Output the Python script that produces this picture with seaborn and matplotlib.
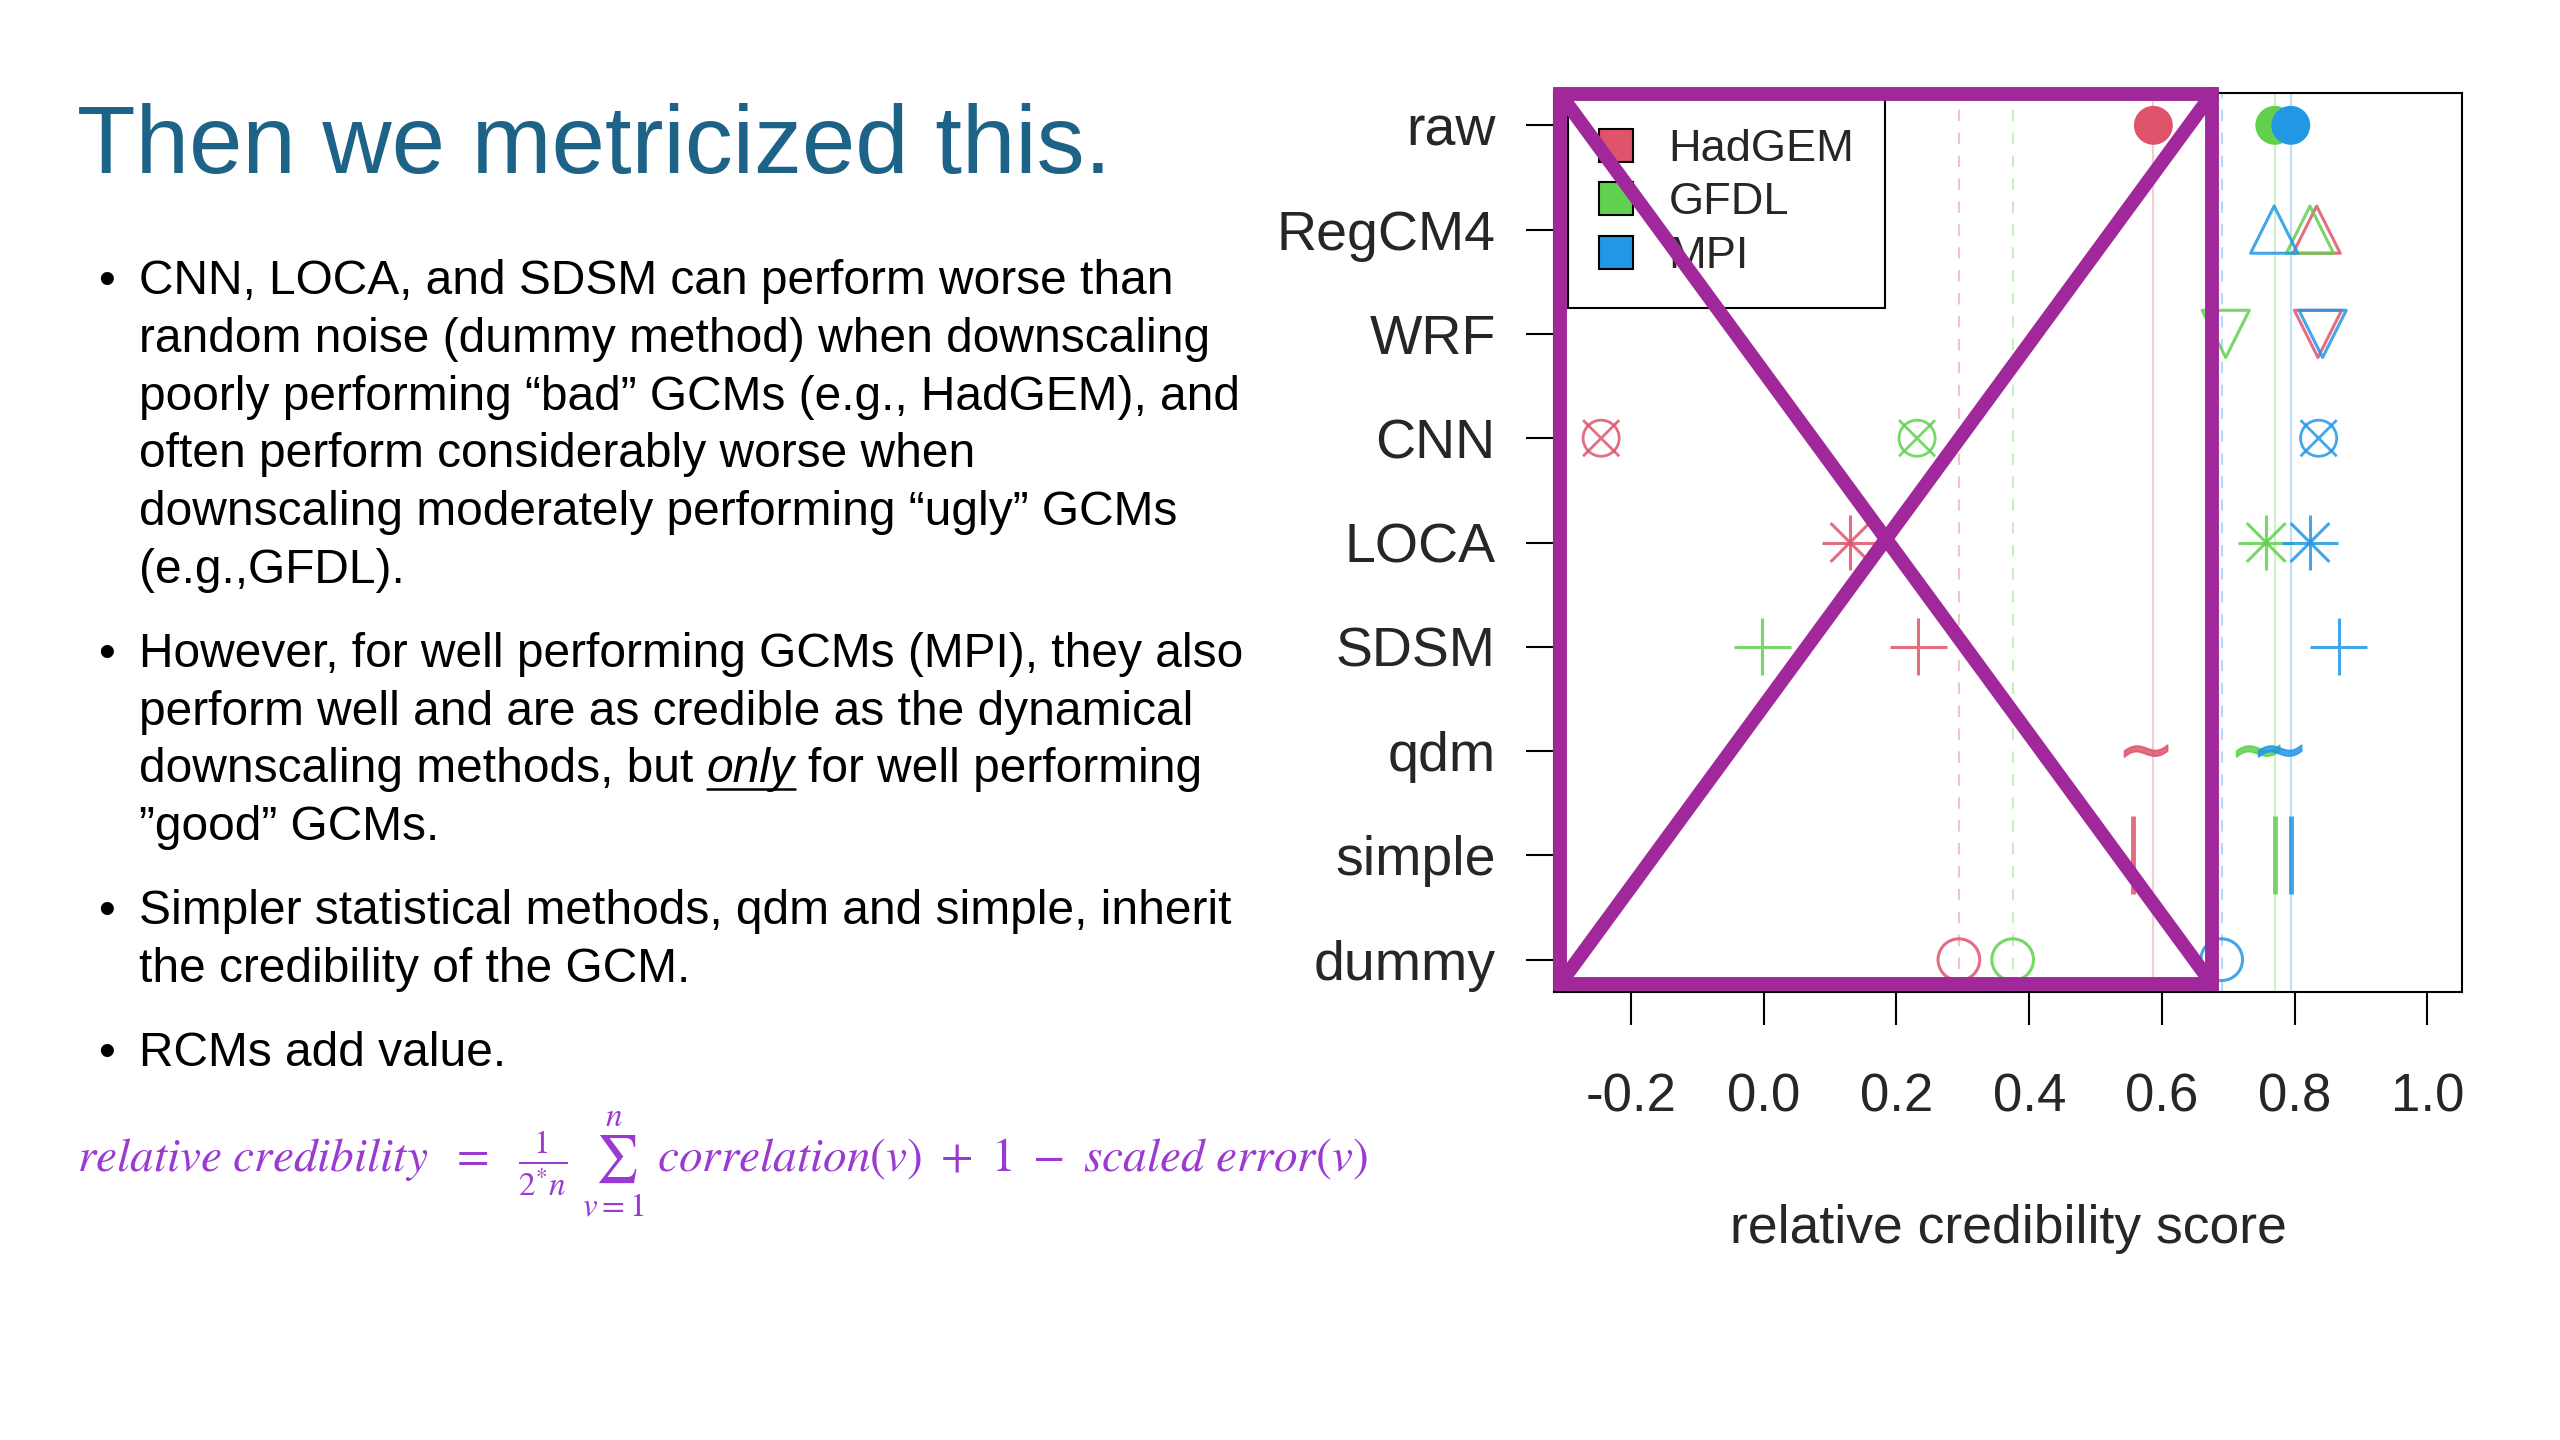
import numpy as np
import pandas as pd
import matplotlib
matplotlib.use('Agg')
import matplotlib.pyplot as plt
from matplotlib.patches import Patch, Rectangle
from matplotlib.lines import Line2D
import seaborn as sns

# scores (top row to bottom row)
methods = ['raw', 'RegCM4', 'WRF', 'CNN', 'LOCA', 'SDSM', 'qdm', 'simple', 'dummy']
gcms = ['HadGEM', 'GFDL', 'MPI']
hadgem = [0.587, 0.833, 0.835, -0.245, 0.130, 0.233, 0.576, 0.556, 0.294]
gfdl = [0.770, 0.823, 0.696, 0.231, 0.757, -0.002, 0.745, 0.770, 0.375]
mpi = [0.794, 0.769, 0.842, 0.836, 0.823, 0.866, 0.778, 0.795, 0.690]
x_ticks = [-0.2, 0.0, 0.2, 0.4, 0.6, 0.8, 1.0]
x_label = 'relative credibility score'

title = 'Then we metricized this.'
bullets = [
    ['CNN, LOCA, and SDSM can perform worse than',
     'random noise (dummy method) when downscaling',
     'poorly performing \u201cbad\u201d GCMs (e.g., HadGEM), and',
     'often perform considerably worse when',
     'downscaling moderately performing \u201cugly\u201d GCMs',
     '(e.g.,GFDL).'],
    ['However, for well performing GCMs (MPI), they also',
     'perform well and are as credible as the dynamical',
     'downscaling methods, but *only* for well performing',
     '\u201dgood\u201d GCMs.'],
    ['Simpler statistical methods, qdm and simple, inherit',
     'the credibility of the GCM.'],
    ['RCMs add value.'],
]
formula = (r'$relative\ credibility\ \ =\ \ \frac{1}{2^{*}n}\ \sum_{v=1}^{n}\ '
           r'correlation(v)\ +\ 1\ -\ scaled\ error(v)$')

palette = dict(zip(gcms, ['#DF536B', '#61D04F', '#2297E6']))
teal = '#1D6287'
violet = '#9A3AD1'
cross_purple = '#A0289A'

df = pd.DataFrame({
    'method': np.repeat(methods, len(gcms)),
    'gcm': np.tile(gcms, len(methods)),
    'score': np.column_stack([hadgem, gfdl, mpi]).ravel(),
})
df['pos'] = df['method'].map({m: i for i, m in enumerate(methods)})

# marker, size (pt), line width, how to colour it
marker_specs = {
    'raw': [('o', 28, 0, 'filled')],
    'RegCM4': [('^', 34, 2.2, 'hollow')],
    'WRF': [('v', 34, 2.2, 'hollow')],
    'CNN': [('o', 26, 2.0, 'hollow'), ('x', 26, 2.0, 'hollow')],
    'LOCA': [('+', 40, 2.2, 'hollow'), ('x', 28, 2.2, 'hollow')],
    'SDSM': [('+', 41, 2.2, 'hollow')],
    'qdm': [(r'$\sim$', 31, 1.2, 'glyph')],
    'simple': [('|', 56, 3.5, 'hollow')],
    'dummy': [('o', 30, 2.2, 'hollow')],
}

sns.set_style('white')
plt.rcParams['font.family'] = ['Liberation Sans', 'DejaVu Sans']

W, H = 2560, 1440
fig = plt.figure(figsize=(W / 100, H / 100), dpi=100)
fig.patch.set_facecolor('white')
ax = fig.add_axes([1554 / W, 1 - 992 / H, 908 / W, 899 / H])

# reference lines: raw GCM score (solid) and dummy score (dashed)
for g in gcms:
    raw_val = df[(df['method'] == 'raw') & (df['gcm'] == g)]['score'].iloc[0]
    dum_val = df[(df['method'] == 'dummy') & (df['gcm'] == g)]['score'].iloc[0]
    ax.axvline(raw_val, color=palette[g], alpha=0.3, lw=1.5, zorder=1)
    ax.axvline(dum_val, color=palette[g], alpha=0.35, lw=1.5, ls=(0, (5.5, 5.5)), zorder=1)

for m in methods:
    sub = df[df['method'] == m]
    for marker, size, lw, mode in marker_specs[m]:
        sns.scatterplot(data=sub, x='score', y='pos', hue='gcm', hue_order=gcms,
                        palette=palette, marker=marker, s=size ** 2, linewidth=lw,
                        alpha=1.0 if m == 'raw' else 0.85, legend=False, ax=ax, zorder=4)
        coll = ax.collections[-1]
        fc = coll.get_facecolors()
        if mode == 'filled':
            coll.set_edgecolors('none')
        elif mode == 'hollow':
            coll.set_edgecolors(fc)
            coll.set_facecolors('none')
        else:
            coll.set_edgecolors(fc)

ax.set_xlim(-0.316, 1.052)
ax.set_ylim(len(methods) - 1 + 0.31, -0.31)
ax.set_xticks(x_ticks)
ax.set_xticklabels([f'{v:.1f}' for v in x_ticks])
ax.set_yticks(range(len(methods)))
ax.set_yticklabels(methods)
ax.set_ylabel('')
ax.set_xlabel(x_label, fontsize=38.5)
ax.xaxis.set_label_coords(0.5, -0.264)
ax.xaxis.label.set_va('center')
ax.tick_params(axis='both', color='black', width=1.5, bottom=True, left=True)
ax.tick_params(axis='x', length=24, pad=34, labelsize=38)
ax.tick_params(axis='y', length=20, pad=22, labelsize=40)
for sp in ax.spines.values():
    sp.set_visible(True)
    sp.set_color('black')
    sp.set_linewidth(1.5)

handles = [Patch(facecolor=palette[g], edgecolor='black', lw=1.5, label=g) for g in gcms]
leg = ax.legend(handles=handles, loc='upper left', bbox_to_anchor=(0.0154, 0.9944),
                borderaxespad=0, fontsize=32.5, frameon=True, fancybox=False, framealpha=1,
                edgecolor='black', handlelength=0.75, handleheight=0.75,
                handletextpad=0.8, labelspacing=0.27, borderpad=0.68)
leg.get_frame().set_linewidth(1.5)
leg.set_zorder(6)

# the purple box-and-cross drawn over the chart
rx0, rx1, ry0, ry1 = 0.0066, 0.7247, 0.009, 0.999
ax.add_patch(Rectangle((rx0, ry0), rx1 - rx0, ry1 - ry0, transform=ax.transAxes, fill=False,
                       ec=cross_purple, lw=10, clip_on=False, zorder=10, joinstyle='miter'))
ax.plot([rx0, rx1], [ry1, ry0], transform=ax.transAxes, color=cross_purple, lw=10,
        clip_on=False, zorder=10)
ax.plot([rx0, rx1], [ry0, ry1], transform=ax.transAxes, color=cross_purple, lw=10,
        clip_on=False, zorder=10)

# slide text
fig.text(77 / W, 1 - 173 / H, title, fontsize=69, color=teal, va='baseline')

renderer = fig.canvas.get_renderer()
body = dict(fontsize=34.5, color='black', va='baseline')
probe_a = fig.text(0, 0, 'n n', **body)
probe_b = fig.text(0, 0, 'nn', **body)
space_w = probe_a.get_window_extent(renderer).width - probe_b.get_window_extent(renderer).width
probe_a.remove()
probe_b.remove()

base = 294
for lines in bullets:
    fig.text(98 / W, 1 - base / H, '\u2022', **body)
    for line in lines:
        if '*' in line:
            pre, word, post = line.split('*')
            t1 = fig.text(139 / W, 1 - base / H, pre.rstrip(), **body)
            x2 = t1.get_window_extent(renderer).x1 + space_w
            t2 = fig.text(x2 / W, 1 - base / H, word, style='italic', **body)
            bb2 = t2.get_window_extent(renderer)
            fig.add_artist(Line2D([bb2.x0 / W, bb2.x1 / W], [1 - (base + 7) / H] * 2,
                                  color='black', lw=1.8))
            fig.text((bb2.x1 + space_w) / W, 1 - base / H, post.lstrip(), **body)
        else:
            fig.text(139 / W, 1 - base / H, line, **body)
        base += 57.8
    base += 26

fig.text(77 / W, 1 - 1165 / H, formula, fontsize=34, color=violet, va='center',
         math_fontfamily='stix')

fig.savefig('out.png', dpi=100, facecolor='white')
